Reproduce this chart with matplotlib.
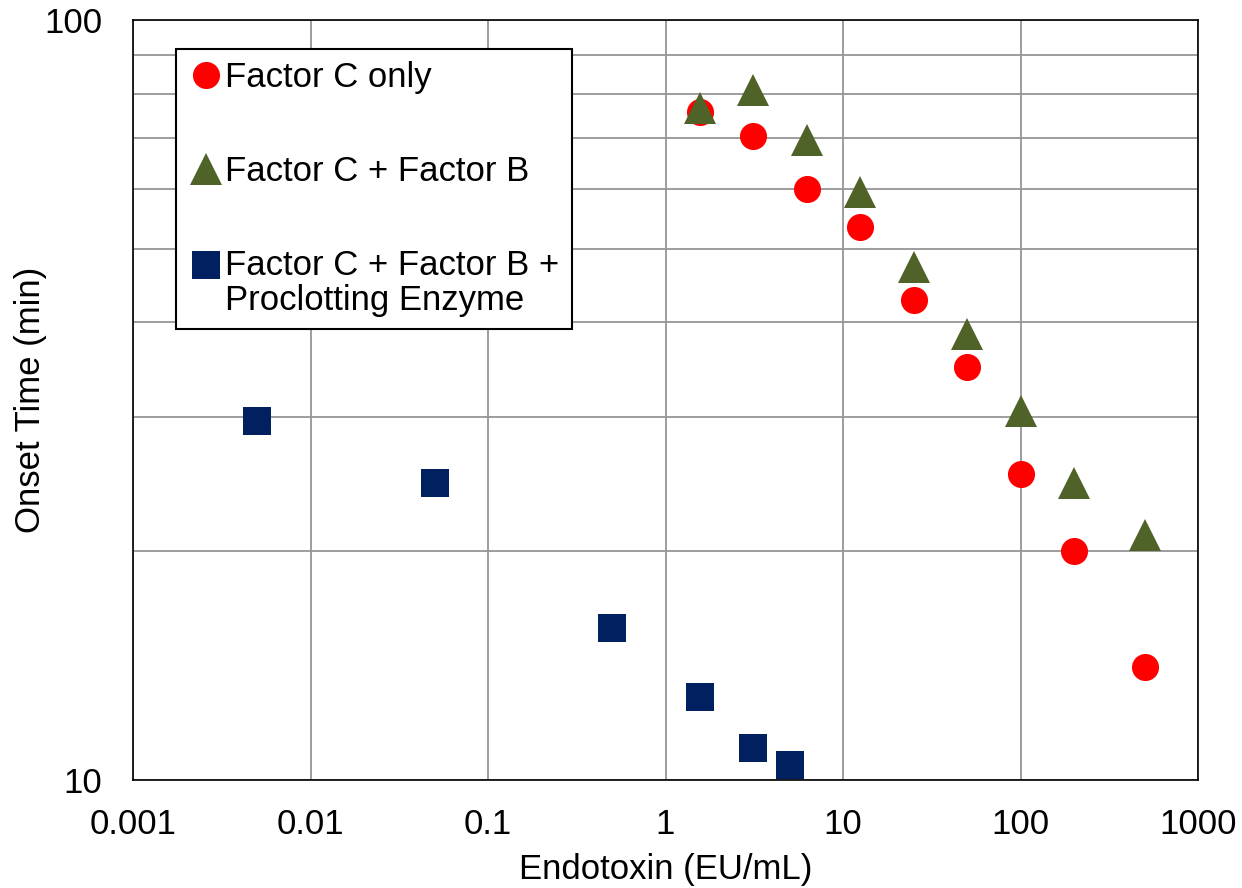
import matplotlib
matplotlib.use("Agg")
import matplotlib.pyplot as plt
from matplotlib.ticker import FixedLocator, FuncFormatter, NullFormatter
from matplotlib.legend_handler import HandlerLine2D

plt.rcParams['font.family'] = ['Liberation Sans', 'DejaVu Sans']

# Data
x_fc = [1.5625, 3.125, 6.25, 12.5, 25, 50, 100, 200, 500]
y_fc = [75.7, 70.3, 59.9, 53.4, 42.8, 35.0, 25.3, 20.0, 14.1]

x_fcb = [1.5625, 3.125, 6.25, 12.5, 25, 50, 100, 200, 500]
y_fcb = [76.6, 81.0, 69.6, 59.3, 47.3, 38.6, 30.6, 24.6, 21.0]

x_fcbp = [0.005, 0.05, 0.5, 1.5625, 3.125, 5]
y_fcbp = [29.7, 24.6, 15.85, 12.86, 11.02, 10.46]

labels = ["Factor C only", "Factor C + Factor B",
          "Factor C + Factor B +\nProclotting Enzyme"]
x_ticks = [0.001, 0.01, 0.1, 1, 10, 100, 1000]
y_ticks = [10, 100]

FS = 25


class ShiftedHandler(HandlerLine2D):
    def __init__(self, dy, **kw):
        super().__init__(**kw)
        self.dy = dy

    def create_artists(self, legend, orig_handle, xdescent, ydescent, width,
                       height, fontsize, trans):
        arts = super().create_artists(legend, orig_handle, xdescent, ydescent,
                                      width, height, fontsize, trans)
        for a in arts:
            a.set_ydata([y + self.dy for y in a.get_ydata()])
        return arts


fig = plt.figure(figsize=(12.42, 8.88), dpi=100)
ax = fig.add_axes([133/1242, 1-780/888, (1198-133)/1242, (780-20)/888])

l1, = ax.plot(x_fc, y_fc, linestyle='none', marker='o', markersize=19.5,
              color='#FF0000', markeredgewidth=0, label=labels[0], zorder=3)
l2, = ax.plot(x_fcb, y_fcb, linestyle='none', marker='^', markersize=22.5,
              color='#4F6228', markeredgewidth=0, label=labels[1], zorder=4)
l3, = ax.plot(x_fcbp, y_fcbp, linestyle='none', marker='s', markersize=19.5,
              color='#002060', markeredgewidth=0, label=labels[2], zorder=5)

ax.set_xscale('log')
ax.set_yscale('log')
ax.set_xlim(0.001, 1000)
ax.set_ylim(10, 100)

ax.xaxis.set_major_locator(FixedLocator(x_ticks))
ax.xaxis.set_major_formatter(FuncFormatter(lambda v, p: '%g' % v))
ax.xaxis.set_minor_locator(FixedLocator([]))
ax.yaxis.set_major_locator(FixedLocator(y_ticks))
ax.yaxis.set_major_formatter(FuncFormatter(lambda v, p: '%g' % v))
ax.yaxis.set_minor_locator(FixedLocator([20, 30, 40, 50, 60, 70, 80, 90]))
ax.yaxis.set_minor_formatter(NullFormatter())

ax.grid(True, which='major', color='#959595', linewidth=1.3, zorder=0)
ax.grid(True, which='minor', axis='y', color='#959595', linewidth=1.3, zorder=0)
ax.set_axisbelow(True)

ax.tick_params(axis='both', which='both', length=0, labelsize=FS)
ax.tick_params(axis='x', pad=20.5)
ax.tick_params(axis='y', pad=22)

for s in ax.spines.values():
    s.set_color('black')
    s.set_linewidth(1.2)

ax.set_xlabel('Endotoxin (EU/mL)', fontsize=FS, labelpad=8)
ax.set_ylabel('Onset Time (min)', fontsize=FS)
ax.yaxis.set_label_coords((47 - 133) / 1065, 0.5)

leg = ax.legend(handles=[l1, l2, l3],
                handler_map={l3: ShiftedHandler(0.55 * FS)},
                loc='upper left', bbox_to_anchor=((176-133)/1065, 1-(49-20)/760),
                fontsize=FS, frameon=True, fancybox=False, framealpha=1,
                edgecolor='black', borderpad=0.35, labelspacing=1.75,
                handlelength=1.05, handletextpad=0.02, borderaxespad=0)
leg.get_frame().set_linewidth(1.5)
for t in leg.get_texts():
    t.set_linespacing(1.1)

fig.savefig('out.png', dpi=100)
